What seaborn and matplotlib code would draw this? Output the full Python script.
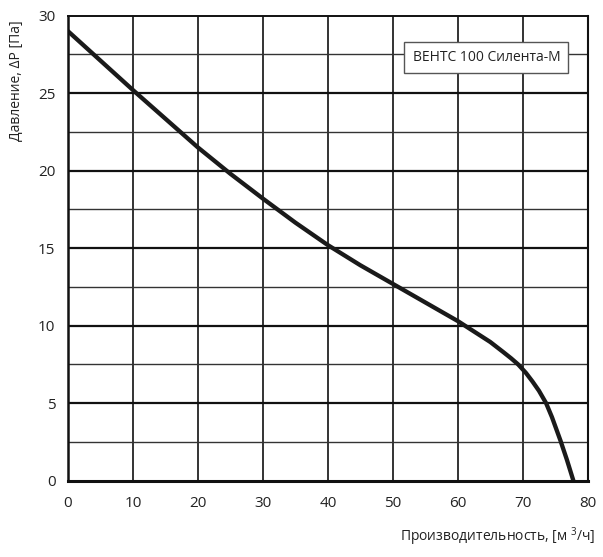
import matplotlib
matplotlib.use('Agg')
import matplotlib.pyplot as plt
import seaborn as sns
import pandas as pd

# данные кривой
flow = [0, 5, 10, 15, 20, 25, 30, 35, 40, 45, 50, 55, 60, 65,
        67, 68.2, 69.3, 70.5, 71.5, 72.5, 73.6, 74.5, 75.8, 76.8, 77.8]
pressure = [29.0, 27.1, 25.2, 23.35, 21.5, 19.8, 18.2, 16.65, 15.2, 13.9,
            12.7, 11.5, 10.3, 8.95, 8.3, 7.9, 7.5, 6.95, 6.4, 5.8,
            5.0, 4.1, 2.6, 1.35, 0.0]
model_name = 'ВЕНТС 100 Силента-М'
x_ticks = [0, 10, 20, 30, 40, 50, 60, 70, 80]
y_ticks = [0, 5, 10, 15, 20, 25, 30]

df = pd.DataFrame({'flow': flow, 'pressure': pressure})

sns.set_style('white')
plt.rcParams['font.family'] = ['Open Sans', 'DejaVu Sans']
plt.rcParams['mathtext.fontset'] = 'custom'
plt.rcParams['mathtext.rm'] = 'Open Sans'
plt.rcParams['mathtext.it'] = 'Open Sans'

txt = '#222222'
fig = plt.figure(figsize=(6.03, 5.57), dpi=100)
ax = fig.add_axes([0.1128, 0.137, 0.8618, 0.8348])

# сетка
for v in x_ticks[1:-1]:
    ax.axvline(v, color='#111111', lw=1.2, zorder=1)
for h in range(1, 12):
    yv = h * 2.5
    major = (h % 2 == 0)
    ax.axhline(yv, color='#111111' if major else '#333333',
               lw=1.6 if major else 1.0, zorder=1)

sns.lineplot(data=df, x='flow', y='pressure', sort=False, color='#1a1a1a',
             lw=3.1, ax=ax, zorder=3)

ax.set_xlim(0, 80)
ax.set_ylim(0, 30)
ax.set_xticks(x_ticks)
ax.set_yticks(y_ticks)
ax.tick_params(axis='both', direction='out', length=4, width=1.2, color='#111111',
               labelsize=11, labelcolor=txt)
ax.tick_params(axis='x', pad=7)
ax.tick_params(axis='y', pad=5)
ax.set_xlabel('')
ax.set_ylabel('Давление, ΔP [Па]', fontsize=10, color=txt)
ax.yaxis.set_label_coords(-0.085, 0.86)

for side, w in [('left', 1.8), ('bottom', 2.2), ('top', 1.4), ('right', 1.5)]:
    ax.spines[side].set_visible(True)
    ax.spines[side].set_linewidth(w)
    ax.spines[side].set_color('#111111')
    ax.spines[side].set_zorder(4)

ax.text(0.805, 0.91, model_name, transform=ax.transAxes, ha='center', va='center',
        fontsize=10, color=txt, zorder=5,
        bbox=dict(boxstyle='square,pad=0.6', fc='white', ec='#555555', lw=1.0))

fig.text(0.987, 0.036, 'Производительность, [м $^{3}$/ч]', ha='right', va='center',
         fontsize=10, color=txt)

fig.savefig('out.png', dpi=100)
